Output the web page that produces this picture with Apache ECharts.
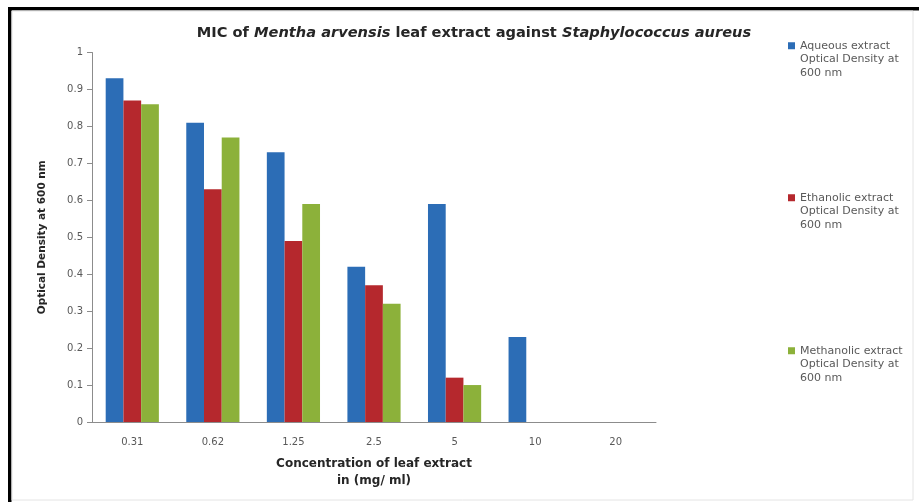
<!DOCTYPE html>
<html>
<head>
<meta charset="utf-8">
<script src="https://cdn.jsdelivr.net/npm/echarts@6/dist/echarts.min.js"></script>
<style>
html,body{margin:0;padding:0;background:#fff;}
#chart{width:919px;height:502px;}
</style>
</head>
<body>
<div id="chart"></div>
<script>
const categories = ['0.31', '0.62', '1.25', '2.5', '5', '10', '20'];
const aqueous = [0.93, 0.81, 0.73, 0.42, 0.59, 0.23, 0];
const ethanolic = [0.87, 0.63, 0.49, 0.37, 0.12, 0, 0];
const methanolic = [0.86, 0.77, 0.59, 0.32, 0.10, 0, 0];
const seriesNames = [
  'Aqueous extract\nOptical Density at\n600 nm',
  'Ethanolic extract\nOptical Density at\n600 nm',
  'Methanolic extract\nOptical Density at\n600 nm'
];
const yTicks = [0, 0.1, 0.2, 0.3, 0.4, 0.5, 0.6, 0.7, 0.8, 0.9, 1];

const colors = ['#2c6db6', '#b5282d', '#8cb13a'];
const labelFont = 'DejaVu Sans';
const boldFont = 'DejaVu Sans';

const chart = echarts.init(document.getElementById('chart'), null, {renderer: 'canvas'});

function legendFor(i, top) {
  return {
    data: [seriesNames[i]],
    orient: 'vertical',
    left: 788,
    top: top,
    padding: 0,
    itemWidth: 7,
    itemHeight: 7,
    itemGap: 5,
    icon: 'rect',
    selectedMode: false,
    // two blank lines first so that the icon lines up with the first text line
    formatter: function (name) { return '\n\n' + name; },
    textStyle: {
      fontFamily: labelFont,
      fontSize: 11,
      color: '#595959',
      lineHeight: 13.5
    }
  };
}

const option = {
  backgroundColor: '#ffffff',
  animation: false,
  title: {
    text: '{b|MIC of }{i|Mentha arvensis}{b| leaf extract against }{i|Staphylococcus aureus}',
    left: 469,
    textAlign: 'center',
    top: 21,
    textStyle: {
      rich: {
        b: {fontFamily: boldFont, fontWeight: 'bold', fontSize: 14.6, color: '#262626'},
        i: {fontFamily: boldFont, fontWeight: 'bold', fontStyle: 'italic', fontSize: 14.6, color: '#262626'}
      }
    }
  },
  legend: [legendFor(0, 12), legendFor(1, 164), legendFor(2, 317)],
  grid: {left: 92, right: 263, top: 52.5, bottom: 80, containLabel: false},
  xAxis: {
    type: 'category',
    data: categories,
    axisLine: {lineStyle: {color: '#8c8c8c', width: 1}},
    axisTick: {show: false},
    axisLabel: {fontFamily: labelFont, fontSize: 10, color: '#595959', margin: 15},
    name: 'Concentration of leaf extract\nin (mg/ ml)',
    nameLocation: 'middle',
    nameGap: 33,
    nameTextStyle: {fontFamily: boldFont, fontWeight: 'bold', fontSize: 12, color: '#262626', lineHeight: 17}
  },
  yAxis: {
    type: 'value',
    min: 0,
    max: 1,
    interval: 0.1,
    splitLine: {show: false},
    axisLine: {show: true, lineStyle: {color: '#8c8c8c', width: 1}},
    axisTick: {show: true, length: 5, lineStyle: {color: '#8c8c8c'}},
    axisLabel: {
      fontFamily: labelFont, fontSize: 10, color: '#595959', margin: 9,
      formatter: function (v) {
        const t = yTicks.find(x => Math.abs(x - v) < 1e-6);
        return t === undefined ? '' : String(t);
      }
    },
    name: 'Optical Density at 600 nm',
    nameLocation: 'middle',
    nameGap: 44,
    nameTextStyle: {fontFamily: boldFont, fontWeight: 'bold', fontSize: 10.5, color: '#262626'}
  },
  series: [
    {name: seriesNames[0], type: 'bar', data: aqueous, itemStyle: {color: colors[0]}, barGap: '0%', barCategoryGap: '34%'},
    {name: seriesNames[1], type: 'bar', data: ethanolic, itemStyle: {color: colors[1]}, barGap: '0%', barCategoryGap: '34%'},
    {name: seriesNames[2], type: 'bar', data: methanolic, itemStyle: {color: colors[2]}, barGap: '0%', barCategoryGap: '34%'}
  ],
  graphic: [
    {type: 'rect', silent: true, shape: {x: 8, y: 7, width: 911, height: 3.5}, style: {fill: '#000'}},
    {type: 'rect', silent: true, shape: {x: 8, y: 7, width: 3.5, height: 495}, style: {fill: '#000'}},
    {type: 'rect', silent: true, shape: {x: 12, y: 11, width: 901, height: 489}, style: {fill: 'none', stroke: '#e4e4e4', lineWidth: 1}}
  ]
};

chart.setOption(option);
</script>
</body>
</html>
